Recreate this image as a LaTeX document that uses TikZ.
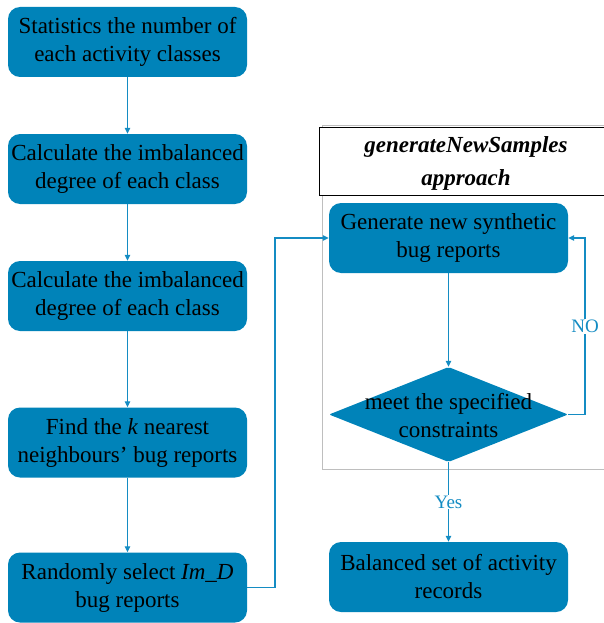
\documentclass[tikz,border=0pt]{standalone}
\usepackage{fontspec}
\setmainfont{Liberation Serif}
\usetikzlibrary{arrows.meta,shapes.geometric}
\definecolor{boxblue}{RGB}{0,131,185}
\definecolor{lineblue}{RGB}{20,140,195}
\definecolor{framegray}{RGB}{190,190,190}
\tikzset{
  x=1pt,y=1pt,
  stepbox/.style={draw=none,fill=boxblue,rounded corners=12pt,minimum width=239pt,minimum height=70pt,
    inner sep=1pt,align=center,font=\fontsize{23}{28}\selectfont,text=black},
  decbox/.style={draw=none,fill=boxblue,shape=diamond,minimum width=239pt,minimum height=95pt,inner sep=0pt,rounded corners=2pt},
  arr/.style={draw=lineblue,line width=1.1pt,-{Triangle[width=5.5pt,length=6pt]}},
  lbl/.style={fill=white,text=lineblue,font=\fontsize{19}{22}\selectfont,inner sep=1pt},
}
\begin{document}
\begin{tikzpicture}
\useasboundingbox (0,0) rectangle (603,-623);
% container
\draw[framegray,line width=1pt] (322,-125) rectangle (620,-469);
\node[draw=black,line width=0.8pt,fill=white,minimum width=294pt,minimum height=68pt,align=center,
  font=\fontsize{23}{33}\selectfont\bfseries\itshape,inner sep=0pt] (title) at (466,-161) {};
\node[align=center,font=\fontsize{23}{33}\selectfont\bfseries\itshape,inner sep=0pt] (titletext) at (466,-163) {generateNewSamples\\approach};
% left column
\node[stepbox] (s1) at (127.5,-42) {Statistics the number of\\each activity classes};
\node[stepbox] (s2) at (127.5,-169) {Calculate the imbalanced\\degree of each class};
\node[stepbox] (s3) at (127.5,-296) {Calculate the imbalanced\\degree of each class};
\node[stepbox] (s4) at (127.5,-442.5) {Find the \textit{k} nearest\\neighbours’ bug reports};
\node[stepbox] (s5) at (127.5,-587.5) {Randomly select \textit{Im\_D}\\bug reports};
% right column
\node[stepbox] (gen) at (448.5,-238) {Generate new synthetic\\bug reports};
\node[decbox] (dec) at (448.5,-414.5) {};
\node[align=center,font=\fontsize{23}{28}\selectfont,inner sep=0pt] (dectext) at (448.5,-416) {meet the specified\\constraints};
\node[stepbox] (bal) at (448.5,-577) {Balanced set of activity\\records};
% connectors
\draw[arr] (s1) -- (s2);
\draw[arr] (s2) -- (s3);
\draw[arr] (s3) -- (s4);
\draw[arr] (s4) -- (s5);
\coordinate (c1) at (275,-587.5);
\draw[arr] (s5.east) -- (c1) |- (gen.west);
\draw[arr] (gen) -- (dec.north);
\coordinate (c2) at (585,-414.5);
\draw[arr] (dec.east) -- (c2) |- node[lbl,pos=0.25] {NO} (gen.east);
\draw[arr] (dec.south) -- node[lbl] {Yes} (bal.north);
\end{tikzpicture}
\end{document}
